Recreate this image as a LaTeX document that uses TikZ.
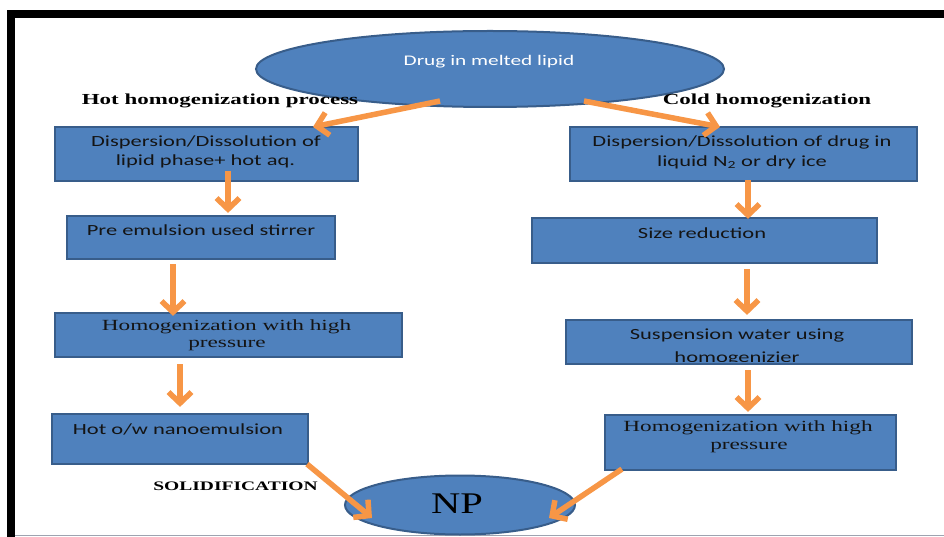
\documentclass[tikz,border=0pt]{standalone}
\usepackage{fontspec}
\usetikzlibrary{arrows.meta,calc,shapes.geometric}
\newfontfamily\boxsans[FakeStretch=1.45]{Carlito}
\newfontfamily\boxserif[FakeStretch=1.5]{Liberation Serif}
\newfontfamily\npserif[FakeStretch=1.35]{Liberation Serif}
\definecolor{boxfill}{HTML}{4F81BD}
\definecolor{boxline}{HTML}{385D8A}
\definecolor{arrowor}{HTML}{F79646}
\definecolor{textdark}{HTML}{141414}
\definecolor{rulegrey}{HTML}{9EA3B0}
\tikzset{
  stepbox/.style={draw=boxline, line width=2.2pt, fill=boxfill, inner sep=0pt},
  blob/.style={ellipse, draw=boxline, line width=2pt, fill=boxfill, inner sep=0pt},
  sanslabel/.style={text=textdark, inner sep=0pt, font=\boxsans\fontsize{15.5}{19}\selectfont},
  seriflabel/.style={text=textdark, inner sep=0pt, font=\boxserif\fontsize{15.5}{18}\selectfont},
  heading/.style={text=black, inner sep=0pt, font=\boxserif\bfseries\fontsize{15.3}{18}\selectfont},
  flow/.style={draw=arrowor, line width=5.5pt, -{Straight Barb[length=11pt,width=23pt]}},
}
\begin{document}
\begin{tikzpicture}[x=1pt,y=-1pt]
\useasboundingbox (0,0) rectangle (944,537);
% page frame
\fill[white] (0,0) rectangle (944,537);
\fill[black] (7,10) rectangle (944,18);
\fill[black] (7,10) rectangle (15,537);
\draw[rulegrey, line width=1.5pt] (15,535.5) -- (944,535.5);

% start and end ellipses
\node[blob, minimum width=468pt, minimum height=76pt] (src) at (490,69) {};
\node[blob, minimum width=230pt, minimum height=59pt] (np) at (460,505) {};
\node[text=white, inner sep=0pt, font=\boxsans\fontsize{14.7}{18}\selectfont] (srct) at (489,62) {Drug in melted lipid};
\node[inner sep=0pt, font=\npserif\fontsize{30}{34}\selectfont] (npt) at (457,504) {NP};

% hot branch
\node[stepbox, minimum width=303pt, minimum height=54pt] (l1) at (206.5,154) {};
\node[stepbox, minimum width=268pt, minimum height=43pt] (l2) at (201,237.5) {};
\node[stepbox, minimum width=347pt, minimum height=44pt] (l3) at (228.5,335) {};
\node[stepbox, minimum width=256pt, minimum height=50pt] (l4) at (180,439) {};

% cold branch
\node[stepbox, minimum width=347pt, minimum height=54pt] (r1) at (743.5,154) {};
\node[stepbox, minimum width=345pt, minimum height=45pt] (r2) at (704.5,240.5) {};
\node[stepbox, minimum width=346pt, minimum height=44pt] (r3) at (739,342) {};
\node[stepbox, minimum width=291pt, minimum height=55pt] (r4) at (750.5,442.5) {};

% box texts
\node[sanslabel] (l1a) at (206,142) {Dispersion/Dissolution of};
\node[sanslabel] (l1b) at (205.5,161) {lipid phase+ hot aq.};
\node[sanslabel] (l2a) at (201,230) {Pre emulsion used stirrer};
\node[seriflabel] (l3a) at (226.5,327) {Homogenization with high};
\node[seriflabel] (l3b) at (227,345) {pressure};
\node[sanslabel] (l4a) at (178,429) {Hot o/w nanoemulsion};

\node[sanslabel] (r1a) at (742,142) {Dispersion/Dissolution of drug in};
\node[sanslabel] (r1b) at (742,162) {liquid N\textsubscript{2} or dry ice};
\node[sanslabel] (r2a) at (702,233) {Size reduction};
\node[sanslabel] (r3a) at (737,335) {Suspension water using};
% second line runs past the bottom edge of its box and is cut there
\begin{scope}
  \clip ($(r3.north west)+(2,2)$) rectangle ($(r3.south east)+(-2,-3.5)$);
  \node[sanslabel, anchor=base] (r3b) at (737,362.5) {homogenizier};
\end{scope}
\node[seriflabel] (r4a) at (748,428) {Homogenization with high};
\node[seriflabel] (r4b) at (749,447) {pressure};

% headings
\node[heading] (hot) at (220,101) {Hot homogenization process};
\node[heading] (cold) at (767,101) {Cold homogenization};
\node[heading, font=\boxserif\bfseries\fontsize{13}{15}\selectfont] (solid) at (235.5,486) {SOLIDIFICATION};

% connectors
\draw[flow] ($(src.south)+(-50,-7)$) -- ($(l1.north)+(106.5,1)$);
\draw[flow] ($(src.south)+(94,-7)$) -- ($(r1.north)+(-23.5,1)$);
\draw[flow] ($(l1.south)+(21.5,-11)$) -- ($(l2.north)+(27,-2)$);
\draw[flow] ($(l2.south)+(-28,4)$) -- ($(l3.north)+(-55.5,4)$);
\draw[flow] ($(l3.south)+(-48.5,6)$) -- ($(l4.north)+(0,-6)$);
\draw[flow] ($(l4.south east)+(-2,-1)$) -- ($(np.west)+(28,13)$);
\draw[flow] ($(r1.south)+(4.5,-2)$) -- ($(r2.north)+(43.5,2)$);
\draw[flow] ($(r2.south)+(42.5,5)$) -- ($(r3.north)+(8,-4)$);
\draw[flow] ($(r3.south)+(9,5)$) -- ($(r4.north)+(-2.5,-2)$);
\draw[flow] ($(r4.south west)+(18,-2)$) -- ($(np.east)+(-27,13)$);
\end{tikzpicture}
\end{document}
